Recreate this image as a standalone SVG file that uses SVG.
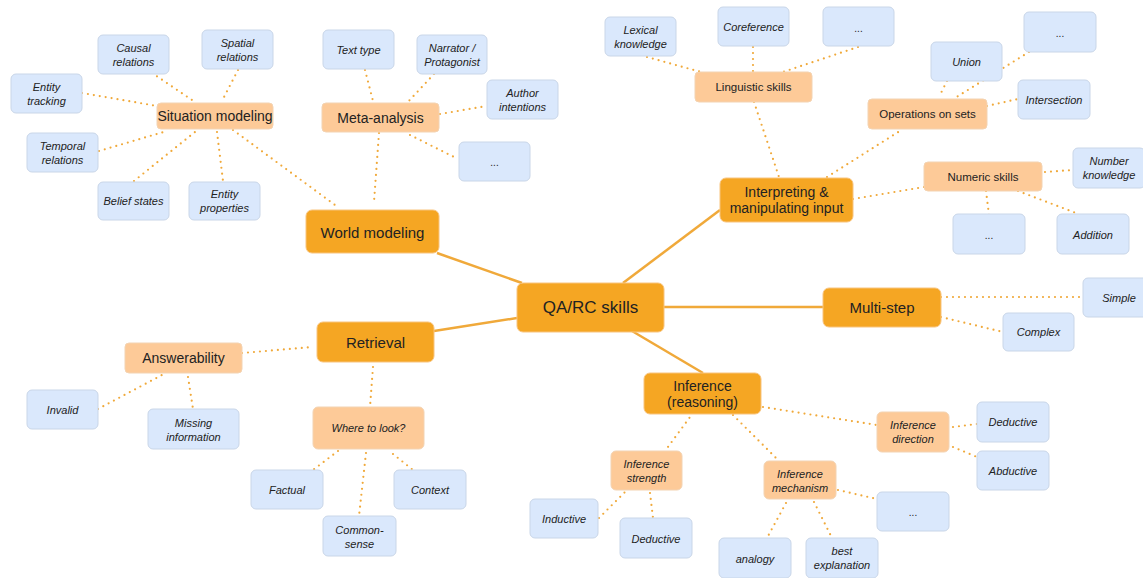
<svg xmlns="http://www.w3.org/2000/svg" width="1143" height="578" viewBox="0 0 1143 578">
<style>
text{font-family:"Liberation Sans",Arial,sans-serif;fill:#222;text-anchor:middle;dominant-baseline:central}
.main rect{fill:#f5a623;stroke:#f8c47e;stroke-width:1}
.mid rect{fill:#fdca98;stroke:#f3d3b2;stroke-width:1}
.leaf rect{fill:#dae8fc;stroke:#c9d6e8;stroke-width:1}
.main text{font-size:15px}
.mid text{font-size:14px}
.mids text{font-size:11.5px}
.midi text{font-size:11px;font-style:italic}
.leaf text{font-size:11px;font-style:italic}
.solid line{stroke:#f0a93a;stroke-width:2.5}
.dot line{stroke:#f0a93a;stroke-width:2.2;stroke-dasharray:0 6;stroke-linecap:round}
</style>
<rect width="1143" height="578" fill="#fff"/>
<g id="connectors">
<g class="solid">
<line x1="437" y1="253" x2="522" y2="283"/>
<line x1="434" y1="331" x2="517" y2="318"/>
<line x1="720" y1="210" x2="623" y2="283"/>
<line x1="664" y1="307" x2="823" y2="307"/>
<line x1="632" y1="331" x2="703" y2="373"/>
</g>
<g class="dot">
<line x1="152" y1="73" x2="192" y2="100"/>
<line x1="238" y1="70" x2="223" y2="99"/>
<line x1="82" y1="93" x2="157" y2="106"/>
<line x1="99" y1="151" x2="167" y2="131"/>
<line x1="134" y1="181" x2="195" y2="132"/>
<line x1="217" y1="132" x2="223" y2="181"/>
<line x1="233" y1="130" x2="335" y2="205"/>
<line x1="365" y1="70" x2="373" y2="101"/>
<line x1="434" y1="74" x2="407" y2="103"/>
<line x1="440" y1="114" x2="487" y2="106"/>
<line x1="410" y1="135" x2="458" y2="159"/>
<line x1="379" y1="133" x2="374" y2="202"/>
<line x1="647" y1="57" x2="701" y2="72"/>
<line x1="753" y1="47" x2="753" y2="72"/>
<line x1="858" y1="47" x2="783" y2="72"/>
<line x1="754" y1="102" x2="779" y2="177"/>
<line x1="827" y1="177" x2="903" y2="129"/>
<line x1="853" y1="199" x2="924" y2="187"/>
<line x1="947" y1="81" x2="939" y2="97"/>
<line x1="1029" y1="52" x2="955" y2="98"/>
<line x1="987" y1="106" x2="1018" y2="99"/>
<line x1="1045" y1="172" x2="1073" y2="170"/>
<line x1="986" y1="191" x2="989" y2="215"/>
<line x1="1018" y1="191" x2="1076" y2="213"/>
<line x1="242" y1="353" x2="313" y2="347"/>
<line x1="373" y1="367" x2="370" y2="407"/>
<line x1="98" y1="409" x2="162" y2="375"/>
<line x1="188" y1="377" x2="193" y2="409"/>
<line x1="338" y1="451" x2="313" y2="470"/>
<line x1="366" y1="453" x2="359" y2="516"/>
<line x1="393" y1="454" x2="413" y2="470"/>
<line x1="941" y1="297" x2="1083" y2="297"/>
<line x1="941" y1="317" x2="1003" y2="332"/>
<line x1="763" y1="407" x2="877" y2="425"/>
<line x1="953" y1="427" x2="977" y2="424"/>
<line x1="953" y1="447" x2="977" y2="457"/>
<line x1="693" y1="413" x2="665" y2="451"/>
<line x1="733" y1="415" x2="778" y2="460"/>
<line x1="599" y1="518" x2="627" y2="490"/>
<line x1="650" y1="493" x2="653" y2="518"/>
<line x1="786" y1="503" x2="767" y2="538"/>
<line x1="814" y1="502" x2="832" y2="538"/>
<line x1="838" y1="490" x2="877" y2="499"/>
</g>
</g>

<g id="qa" class="main"><rect x="517" y="283" width="147" height="49" rx="6"/><text x="590.5" y="307.5" style="font-size:17px">QA/RC skills</text></g>
<g id="world" class="main"><rect x="306" y="210" width="133" height="43" rx="6"/><text x="372.5" y="232">World modeling</text></g>
<g id="interp" class="main"><rect x="720" y="178" width="133" height="44" rx="6"/><text x="786.5" y="192" style="font-size:14px">Interpreting &amp;</text><text x="786.5" y="208" style="font-size:14px">manipulating input</text></g>
<g id="multistep" class="main"><rect x="823" y="288" width="118" height="39" rx="6"/><text x="882" y="307.5">Multi-step</text></g>
<g id="retrieval" class="main"><rect x="317" y="322" width="117" height="40" rx="6"/><text x="375.5" y="342">Retrieval</text></g>
<g id="inference" class="main"><rect x="644" y="373" width="117" height="41" rx="6"/><text x="702.5" y="386" style="font-size:14px">Inference</text><text x="702.5" y="402" style="font-size:14px">(reasoning)</text></g>

<g id="situation" class="mid"><rect x="157" y="103" width="116" height="26" rx="4"/><text x="215" y="116">Situation modeling</text></g>
<g id="meta" class="mid"><rect x="322" y="103" width="117" height="29" rx="4"/><text x="380.5" y="117.5">Meta-analysis</text></g>
<g id="answer" class="mid"><rect x="125" y="343" width="117" height="30" rx="4"/><text x="183.5" y="358">Answerability</text></g>
<g id="linguistic" class="mid mids"><rect x="695" y="72" width="117" height="30" rx="4"/><text x="753.5" y="87">Linguistic skills</text></g>
<g id="opsets" class="mid mids"><rect x="868" y="99" width="119" height="30" rx="4"/><text x="927.5" y="114">Operations on sets</text></g>
<g id="numeric" class="mid mids"><rect x="924" y="162" width="118" height="29" rx="4"/><text x="983" y="176.5">Numeric skills</text></g>
<g id="where" class="mid midi"><rect x="313" y="407" width="111" height="42" rx="5"/><text x="368.5" y="428">Where to look?</text></g>
<g id="istrength" class="mid midi"><rect x="611" y="451" width="71" height="39" rx="5"/><text x="646.5" y="464">Inference</text><text x="646.5" y="478">strength</text></g>
<g id="imech" class="mid midi"><rect x="764" y="461" width="72" height="38" rx="5"/><text x="800" y="474">Inference</text><text x="800" y="488">mechanism</text></g>
<g id="idir" class="mid midi"><rect x="877" y="412" width="72" height="40" rx="5"/><text x="913" y="425">Inference</text><text x="913" y="439">direction</text></g>

<g id="causal" class="leaf"><rect x="98" y="35" width="71" height="39" rx="5"/><text x="133.5" y="48">Causal</text><text x="133.5" y="62">relations</text></g>
<g id="spatial" class="leaf"><rect x="202" y="30" width="71" height="39" rx="5"/><text x="237.5" y="43">Spatial</text><text x="237.5" y="57">relations</text></g>
<g id="etracking" class="leaf"><rect x="11" y="74" width="71" height="39" rx="5"/><text x="46.5" y="87">Entity</text><text x="46.5" y="101">tracking</text></g>
<g id="temporal" class="leaf"><rect x="27" y="133" width="71" height="39" rx="5"/><text x="62.5" y="146">Temporal</text><text x="62.5" y="160">relations</text></g>
<g id="belief" class="leaf"><rect x="98" y="182" width="71" height="38" rx="5"/><text x="133.5" y="201">Belief states</text></g>
<g id="eprops" class="leaf"><rect x="189" y="182" width="71" height="38" rx="5"/><text x="224.5" y="194">Entity</text><text x="224.5" y="208">properties</text></g>
<g id="texttype" class="leaf"><rect x="323" y="30" width="71" height="39" rx="5"/><text x="358.5" y="50">Text type</text></g>
<g id="narrator" class="leaf"><rect x="417" y="35" width="70" height="39" rx="5"/><text x="452" y="48">Narrator /</text><text x="452" y="62">Protagonist</text></g>
<g id="author" class="leaf"><rect x="487" y="80" width="71" height="39" rx="5"/><text x="522.5" y="93">Author</text><text x="522.5" y="107">intentions</text></g>
<g id="meta-more" class="leaf"><rect x="459" y="142" width="71" height="39" rx="5"/><text x="494.5" y="162" style="font-style:normal;font-size:10px">...</text></g>
<g id="lexical" class="leaf"><rect x="605" y="17" width="71" height="39" rx="5"/><text x="640.5" y="30">Lexical</text><text x="640.5" y="44">knowledge</text></g>
<g id="coref" class="leaf"><rect x="718" y="7" width="71" height="39" rx="5"/><text x="753.5" y="27">Coreference</text></g>
<g id="ling-more" class="leaf"><rect x="823" y="7" width="71" height="39" rx="5"/><text x="858.5" y="28" style="font-style:normal;font-size:10px">...</text></g>
<g id="union" class="leaf"><rect x="931" y="42" width="71" height="39" rx="5"/><text x="966.5" y="61.5">Union</text></g>
<g id="sets-more" class="leaf"><rect x="1024" y="12" width="72" height="40" rx="5"/><text x="1060" y="33" style="font-style:normal;font-size:10px">...</text></g>
<g id="intersection" class="leaf"><rect x="1018" y="80" width="72" height="39" rx="5"/><text x="1054" y="100">Intersection</text></g>
<g id="numknow" class="leaf"><rect x="1073" y="148" width="72" height="40" rx="5"/><text x="1109" y="161">Number</text><text x="1109" y="175">knowledge</text></g>
<g id="num-more" class="leaf"><rect x="953" y="214" width="72" height="40" rx="5"/><text x="989" y="235" style="font-style:normal;font-size:10px">...</text></g>
<g id="addition" class="leaf"><rect x="1057" y="214" width="72" height="40" rx="5"/><text x="1093" y="234.5">Addition</text></g>
<g id="simple" class="leaf"><rect x="1083" y="278" width="72" height="39" rx="5"/><text x="1119" y="298">Simple</text></g>
<g id="complex" class="leaf"><rect x="1003" y="313" width="71" height="38" rx="5"/><text x="1038.5" y="332">Complex</text></g>
<g id="invalid" class="leaf"><rect x="27" y="390" width="71" height="39" rx="5"/><text x="62.5" y="410">Invalid</text></g>
<g id="missing" class="leaf"><rect x="148" y="409" width="91" height="40" rx="5"/><text x="193.5" y="423">Missing</text><text x="193.5" y="437">information</text></g>
<g id="factual" class="leaf"><rect x="251" y="470" width="72" height="39" rx="5"/><text x="287" y="490">Factual</text></g>
<g id="context" class="leaf"><rect x="394" y="470" width="72" height="39" rx="5"/><text x="430" y="490">Context</text></g>
<g id="commonsense" class="leaf"><rect x="323" y="516" width="73" height="40" rx="5"/><text x="359.5" y="530">Common-</text><text x="359.5" y="544">sense</text></g>
<g id="ded-dir" class="leaf"><rect x="977" y="402" width="72" height="40" rx="5"/><text x="1013" y="422">Deductive</text></g>
<g id="abductive" class="leaf"><rect x="977" y="451" width="72" height="39" rx="5"/><text x="1013" y="471">Abductive</text></g>
<g id="inductive" class="leaf"><rect x="530" y="499" width="68" height="39" rx="5"/><text x="564" y="519">Inductive</text></g>
<g id="ded-str" class="leaf"><rect x="620" y="518" width="72" height="40" rx="5"/><text x="656" y="539">Deductive</text></g>
<g id="analogy" class="leaf"><rect x="719" y="538" width="72" height="40" rx="5"/><text x="755" y="559">analogy</text></g>
<g id="bestexp" class="leaf"><rect x="806" y="538" width="72" height="40" rx="5"/><text x="842" y="551">best</text><text x="842" y="565">explanation</text></g>
<g id="mech-more" class="leaf"><rect x="877" y="492" width="72" height="39" rx="5"/><text x="913" y="512" style="font-style:normal;font-size:10px">...</text></g>
</svg>
